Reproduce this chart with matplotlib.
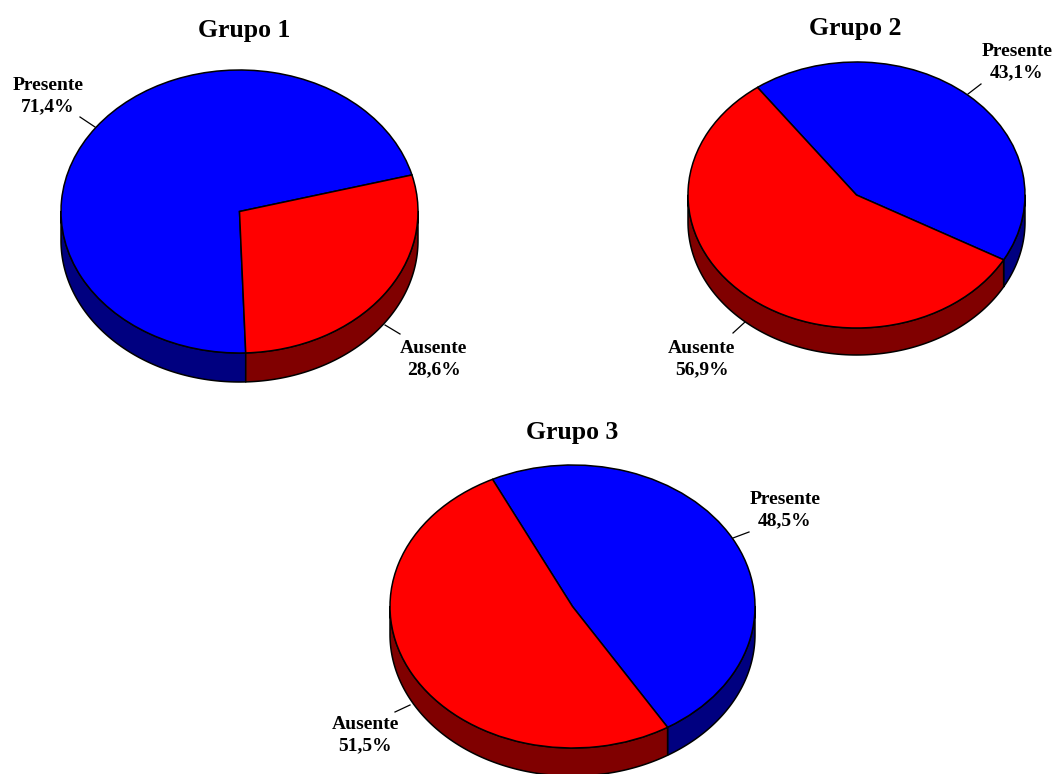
import numpy as np
import matplotlib.pyplot as plt
from matplotlib.patches import Wedge, Polygon
from matplotlib.transforms import Affine2D

# share of each category per group (%)
categories = ["Presente", "Ausente"]
grupo_1 = [71.4, 28.6]
grupo_2 = [43.1, 56.9]
grupo_3 = [48.5, 51.5]
titles = ["Grupo 1", "Grupo 2", "Grupo 3"]

top_colors = ["#0000FF", "#FF0000"]
side_colors = ["#000080", "#800000"]

plt.rcParams['font.family'] = ['Liberation Serif', 'DejaVu Serif']

fig = plt.figure(figsize=(10.55, 7.74), dpi=100)
ax = fig.add_axes([0, 0, 1, 1])
ax.set_xlim(0, 1055)
ax.set_ylim(774, 0)
ax.axis('off')


def side_ranges(a1, a2):
    # parts of [a1, a2] that face the viewer (lower half of the ellipse)
    out = []
    for k in range(-2, 3):
        lo, hi = 180 + 360 * k, 360 + 360 * k
        s, e = max(a1, lo), min(a2, hi)
        if e > s:
            out.append((s, e))
    return out


def pie3d(values, cx, cy, rx, ry, depth, start):
    fr = np.array(values) / sum(values)
    bounds = []
    hi = start
    for f in fr:
        lo = hi - 360 * f
        bounds.append((lo, hi))
        hi = lo

    # walls first
    for (a1, a2), col in zip(bounds, side_colors):
        for s, e in side_ranges(a1, a2):
            t = np.radians(np.linspace(s, e, 120))
            x = cx + rx * np.cos(t)
            y = cy - ry * np.sin(t)
            pts = np.concatenate([np.column_stack([x, y]),
                                  np.column_stack([x[::-1], y[::-1] + depth])])
            ax.add_patch(Polygon(pts, closed=True, facecolor=col,
                                 edgecolor='black', lw=1.1, joinstyle='round'))

    # top face
    tr = Affine2D().scale(rx, -ry).translate(cx, cy) + ax.transData
    for (a1, a2), col in zip(bounds, top_colors):
        ax.add_patch(Wedge((0, 0), 1, a1, a2, facecolor=col, edgecolor='black',
                           lw=1.1, transform=tr))


pie3d(grupo_1, 239.5, 211.5, 178.5, 141.5, 29, 272)
pie3d(grupo_2, 856.5, 195, 168.5, 133, 27, 126)
pie3d(grupo_3, 572.5, 606.5, 182.5, 141.5, 28, 116)

title_pos = [(244, 31), (855, 28), (572, 433)]
for t, (x, y) in zip(titles, title_pos):
    ax.text(x, y, t, ha='center', va='center', fontsize=18.5, fontweight='bold')

# labels: (text position, leader line start, leader line end)
labels = [
    (grupo_1[0], categories[0], (48, 96), (80, 117), (95, 127)),
    (grupo_1[1], categories[1], (434, 359), (385, 325), (400, 334)),
    (grupo_2[0], categories[0], (1017, 62), (968, 94), (981, 84)),
    (grupo_2[1], categories[1], (702, 359), (733, 333), (745, 322)),
    (grupo_3[0], categories[0], (785, 510), (733, 538), (749, 532)),
    (grupo_3[1], categories[1], (365, 735), (395, 712), (410, 705)),
]
for val, cat, (tx, ty), p0, p1 in labels:
    txt = f"{cat}\n{val:.1f}%".replace('.', ',')
    ax.text(tx, ty, txt, ha='center', va='center', fontsize=14,
            fontweight='bold', linespacing=1.3)
    ax.plot([p0[0], p1[0]], [p0[1], p1[1]], color='black', lw=0.9)

fig.savefig("out.png", dpi=100)
